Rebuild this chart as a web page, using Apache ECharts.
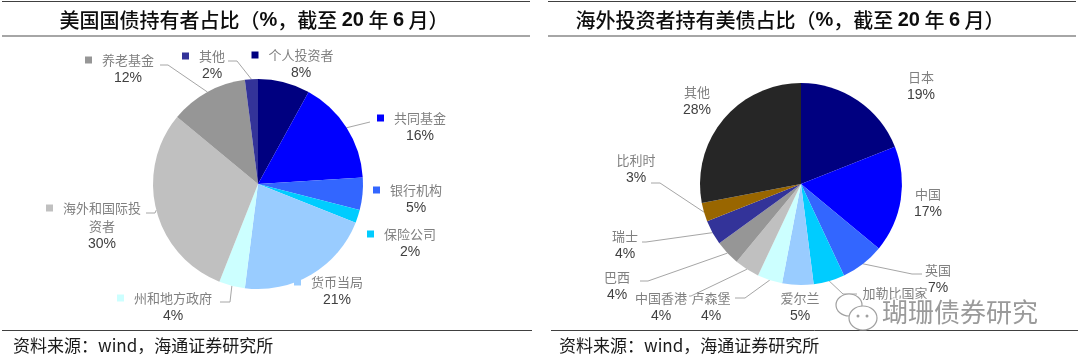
<!DOCTYPE html>
<html><head><meta charset="utf-8">
<script src="https://cdn.jsdelivr.net/npm/echarts@6/dist/echarts.min.js"></script>
<style>html,body{margin:0;padding:0;background:#fff}#c{width:1080px;height:360px}</style>
</head><body><div id="c"></div>
<script>
// ---------- data ----------
const holderNames = ['个人投资者','共同基金','银行机构','保险公司','货币当局','州和地方政府','海外和国际投资者','养老基金','其他'];
const holderShares = [8,16,5,2,21,4,30,12,2];
const foreignNames = ['日本','中国','英国','加勒比国家','爱尔兰','卢森堡','中国香港','巴西','瑞士','比利时','其他'];
const foreignShares = [19,17,7,5,5,4,4,4,4,3,28];
const leftTitle = '美国国债持有者占比';
const rightTitle = '海外投资者持有美债占比';
const sourceText = '资料来源：wind，海通证券研究所';
const watermarkText = '瑚珊债券研究';

// ---------- styles / layout ----------
const leftColors = ['#000080','#0000FF','#3366FF','#00CCFF','#99CCFF','#CCFFFF','#C0C0C0','#969696','#333399'];
const rightColors = ['#000080','#0000FF','#3366FF','#00CCFF','#99CCFF','#CCFFFF','#C0C0C0','#969696','#333399','#996600','#262626'];
const leftLabelPos = [
  {x:301,y:55},
  {x:420,y:118,line:[[370,122],[370,122]]},
  {x:416,y:190},
  {x:410,y:234},
  {x:337,y:282},
  {x:173,y:298,line:[[230,302],[220,302]]},
  {x:102,y:208,line:[[155,213],[146,213]]},
  {x:128,y:60,line:[[168,65],[160,65]]},
  {x:212,y:56,line:[[237,61],[228,61]]}
];
const rightLabelPos = [
  {x:921,y:77},
  {x:928,y:194},
  {x:938,y:270,line:[[912,274],[922,274]]},
  {x:895,y:293,line:[[843,294],[857,294]]},
  {x:800,y:298},
  {x:711,y:298,line:[[745,298],[735,298]]},
  {x:661,y:298,line:[[691,296],[689,296]]},
  {x:617,y:277,line:[[648,281],[640,281]]},
  {x:625,y:236,line:[[646,242],[642,242]]},
  {x:636,y:160,line:[[660,183],[651,183]]},
  {x:697,y:92}
];
const CJK = '"Noto Sans CJK SC", sans-serif';
const LAT = '"Liberation Sans", Arial, sans-serif';
const LH = 18;

function makeLayout(pos, sqOffset) {
  return function (params) {
    const p = pos[params.dataIndex];
    const out = { x: p.x - sqOffset, y: p.y - LH / 2, align: 'center', verticalAlign: 'top' };
    if (p.line && params.labelLinePoints && params.labelLinePoints.length) {
      out.labelLinePoints = [params.labelLinePoints[0], p.line[0], p.line[1]];
    }
    return out;
  };
}

const baseRich = {
  nm: {fontFamily: CJK, fontSize: 13, color: '#808080', lineHeight: LH, align: 'center'},
  pct: {fontFamily: LAT, fontSize: 14, color: '#404040', lineHeight: LH, align: 'center'}
};
const leftRich = {
  nm: baseRich.nm,
  nm2: Object.assign({}, baseRich.nm, {padding: [0,0,0,17]}),
  pct: Object.assign({}, baseRich.pct, {padding: [0,0,0,17]}),
  gap: {width: 10, height: 7, align: 'center'}
};
leftColors.forEach((c, i) => { leftRich['sq' + i] = {width: 7, height: 7, backgroundColor: c, align: 'center'}; });

const leftData = holderNames.map((n, i) => ({
  name: n, value: holderShares[i], itemStyle: {color: leftColors[i]},
  labelLine: {show: !!leftLabelPos[i].line}
}));
const rightData = foreignNames.map((n, i) => ({
  name: n, value: foreignShares[i], itemStyle: {color: rightColors[i]},
  labelLine: {show: !!rightLabelPos[i].line}
}));

const lineStyle = {color: '#a6a6a6', width: 1};
const titleRich = {
  c: {fontFamily: CJK, fontSize: 20, fontWeight: 500, fill: '#0d0d0d'},
  n: {fontFamily: LAT, fontSize: 20, fontWeight: 'bold', fill: '#0d0d0d'}
};

const chart = echarts.init(document.getElementById('c'), null, {renderer: 'canvas'});
chart.setOption({
  animation: false,
  backgroundColor: '#fff',
  series: [
    {
      type: 'pie', center: [258, 184], radius: [0, 105], startAngle: 90, clockwise: true,
      silent: true, avoidLabelOverlap: false,
      data: leftData,
      itemStyle: {borderWidth: 0},
      label: {
        show: true, position: 'outside', alignTo: 'none', align: 'center',
        formatter: p => {
          const i = p.dataIndex; const nm = p.name;
          let s = `{sq${i}|}{gap|}`;
          if (nm.length > 6) s += `{nm|${nm.slice(0, 6)}}\n{nm2|${nm.slice(6)}}`;
          else s += `{nm|${nm}}`;
          return s + `\n{pct|${p.value}%}`;
        },
        rich: leftRich
      },
      labelLine: {show: true, length: 5, length2: 5, smooth: false, lineStyle: lineStyle},
      labelLayout: makeLayout(leftLabelPos, 8.5)
    },
    {
      type: 'pie', center: [801, 184], radius: [0, 101], startAngle: 90, clockwise: true,
      silent: true, avoidLabelOverlap: false,
      data: rightData,
      itemStyle: {borderWidth: 0},
      label: {
        show: true, position: 'outside', alignTo: 'none', align: 'center',
        formatter: p => `{nm|${p.name}}\n{pct|${p.value}%}`,
        rich: baseRich
      },
      labelLine: {show: true, length: 5, length2: 5, smooth: false, lineStyle: lineStyle},
      labelLayout: makeLayout(rightLabelPos, 0)
    }
  ],
  graphic: [
    // panel rules
    {type: 'line', shape: {x1: 2, y1: 1.5, x2: 530, y2: 1.5}, style: {stroke: '#404040', lineWidth: 1}},
    {type: 'line', shape: {x1: 2, y1: 36, x2: 530, y2: 36}, style: {stroke: '#a6a6a6', lineWidth: 2}},
    {type: 'line', shape: {x1: 548, y1: 1.5, x2: 1076, y2: 1.5}, style: {stroke: '#404040', lineWidth: 1}},
    {type: 'line', shape: {x1: 548, y1: 36, x2: 1076, y2: 36}, style: {stroke: '#a6a6a6', lineWidth: 2}},
    {type: 'line', shape: {x1: 2, y1: 330.5, x2: 532, y2: 330.5}, style: {stroke: '#404040', lineWidth: 1}},
    {type: 'line', shape: {x1: 551, y1: 330.5, x2: 1078, y2: 330.5}, style: {stroke: '#404040', lineWidth: 1}},
    // titles
    {type: 'text', x: 254, y: 20, style: {
      text: `{c|${leftTitle}（}{n|%}{c|，截至 }{n|20}{c| 年 }{n|6}{c| 月）}`,
      align: 'center', verticalAlign: 'middle', rich: titleRich
    }},
    {type: 'text', x: 790, y: 20, style: {
      text: `{c|${rightTitle}（}{n|%}{c|，截至 }{n|20}{c| 年 }{n|6}{c| 月）}`,
      align: 'center', verticalAlign: 'middle', rich: titleRich
    }},
    // sources
    {type: 'text', x: 13, y: 346, style: {text: sourceText, fontFamily: CJK, fontSize: 17, fill: '#1a1a1a', align: 'left', verticalAlign: 'middle'}},
    {type: 'text', x: 559, y: 346, style: {text: sourceText, fontFamily: CJK, fontSize: 17, fill: '#1a1a1a', align: 'left', verticalAlign: 'middle'}},
    // watermark
    {type: 'ellipse', z: 100, shape: {cx: 849, cy: 305, rx: 13, ry: 11}, style: {fill: '#fff', stroke: '#a0a0a0', lineWidth: 1.2}},
    {type: 'ellipse', z: 101, shape: {cx: 863, cy: 318, rx: 14, ry: 12}, style: {fill: '#fff', stroke: '#a0a0a0', lineWidth: 1.2}},
    {type: 'circle', z: 102, shape: {cx: 858, cy: 316, r: 1.5}, style: {fill: '#a0a0a0'}},
    {type: 'circle', z: 102, shape: {cx: 867, cy: 316, r: 1.5}, style: {fill: '#a0a0a0'}},
    {type: 'text', z: 103, x: 882, y: 312, style: {text: watermarkText, fontFamily: CJK, fontSize: 26, fill: '#9a9a9a', stroke: '#fff', lineWidth: 3, align: 'left', verticalAlign: 'middle'}}
  ]
});
</script>
</body></html>
